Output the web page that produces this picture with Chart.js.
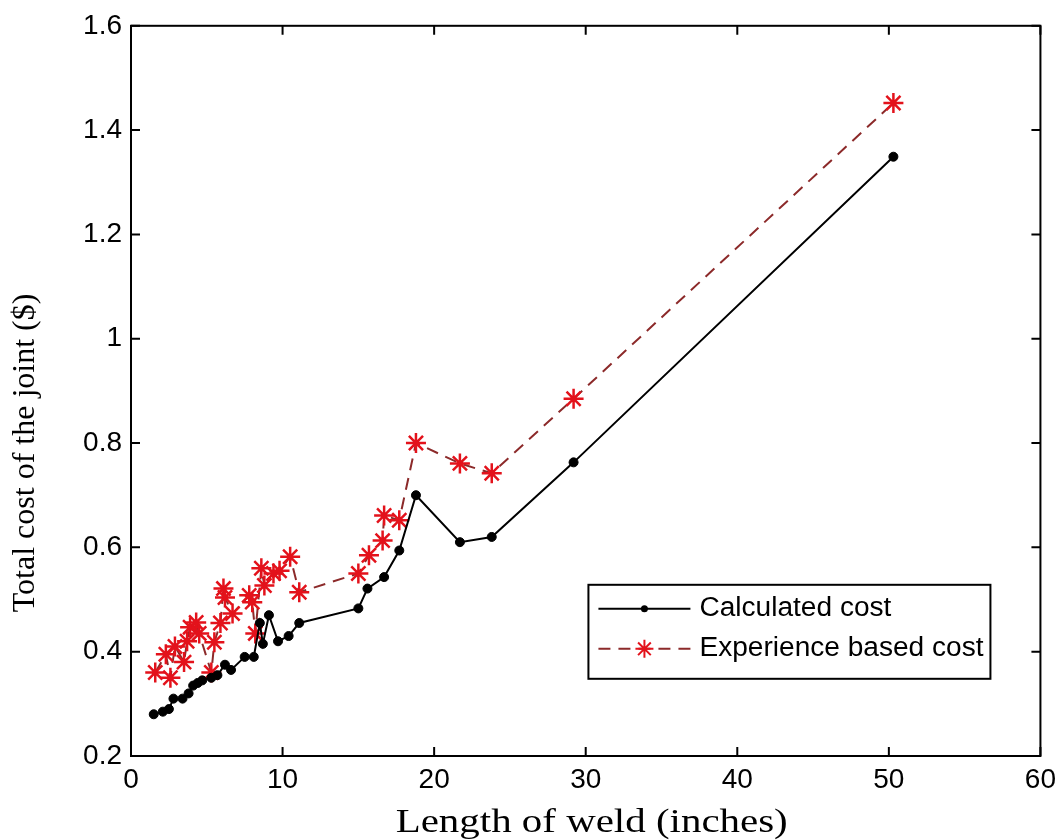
<!DOCTYPE html>
<html>
<head>
<meta charset="utf-8">
<script src="https://cdn.jsdelivr.net/npm/chart.js@4.4.1/dist/chart.umd.min.js"></script>
<style>
  html, body { margin: 0; padding: 0; background: #fff; }
  #wrap { width: 1063px; height: 840px; position: relative; }
</style>
</head>
<body>
<div id="wrap"><canvas id="weldChart"></canvas></div>
<script>
// length of weld (inches) / total cost ($)
const calcX = [1.5, 2.1, 2.5, 2.8, 3.4, 3.8, 4.1, 4.4, 4.7, 5.3, 5.7, 6.2, 6.6, 7.5, 8.1, 8.5, 8.7, 9.1, 9.7, 10.4, 11.1, 15.0, 15.6, 16.7, 17.7, 18.8, 21.7, 23.8, 29.2, 50.3];
const calcY = [0.28, 0.285, 0.29, 0.31, 0.31, 0.32, 0.335, 0.34, 0.345, 0.35, 0.355, 0.375, 0.365, 0.39, 0.39, 0.455, 0.415, 0.47, 0.42, 0.43, 0.455, 0.483, 0.521, 0.543, 0.594, 0.70, 0.61, 0.62, 0.763, 1.349];

const expX = [1.6, 2.3, 2.6, 2.9, 3.5, 3.7, 3.9, 4.3, 4.5, 5.3, 5.5, 5.9, 6.1, 6.2, 6.7, 7.8, 8.0, 8.2, 8.6, 8.8, 9.4, 9.8, 10.5, 11.1, 15.0, 15.7, 16.6, 16.7, 17.7, 18.8, 21.7, 23.8, 29.2, 50.3];
const expY = [0.36, 0.395, 0.35, 0.41, 0.38, 0.42, 0.447, 0.456, 0.435, 0.36, 0.418, 0.455, 0.521, 0.504, 0.473, 0.508, 0.495, 0.435, 0.56, 0.527, 0.55, 0.555, 0.582, 0.514, 0.55, 0.585, 0.613, 0.661, 0.652, 0.80, 0.761, 0.742, 0.885, 1.452];

const seriesLabels = ["Calculated cost", "Experience based cost"];
const xTitle = "Length of weld (inches)";
const yTitle = "Total cost of the joint ($)";
const xTicks = [0, 10, 20, 30, 40, 50, 60];
const yTicks = [0.2, 0.4, 0.6, 0.8, 1.0, 1.2, 1.4, 1.6];

const sansFamily = "'Liberation Sans', Arial, sans-serif";
const serifFamily = "'Liberation Serif', 'Times New Roman', serif";
const tickFont = { family: sansFamily, size: 28 };
const lineRed = "#8c2a2a";
const starRed = "#e3121b";

const toPoints = (xs, ys) => xs.map((x, i) => ({ x, y: ys[i] }));

function drawStar(ctx, x, y, r) {
  ctx.beginPath();
  for (let k = 0; k < 4; k++) {
    const a = (k * Math.PI) / 4;
    ctx.moveTo(x - r * Math.cos(a), y - r * Math.sin(a));
    ctx.lineTo(x + r * Math.cos(a), y + r * Math.sin(a));
  }
  ctx.stroke();
}

// MATLAB-ish box with inward ticks on every side
const boxTicks = {
  id: "boxTicks",
  afterDatasetsDraw(chart) {
    const { ctx, chartArea: a, scales } = chart;
    const len = 9;
    ctx.save();
    ctx.strokeStyle = "#000";
    ctx.lineWidth = 2;
    ctx.strokeRect(a.left, a.top, a.right - a.left, a.bottom - a.top);
    ctx.beginPath();
    xTicks.forEach((v) => {
      const px = scales.x.getPixelForValue(v);
      ctx.moveTo(px, a.bottom); ctx.lineTo(px, a.bottom - len);
      ctx.moveTo(px, a.top); ctx.lineTo(px, a.top + len);
    });
    yTicks.forEach((v) => {
      const py = scales.y.getPixelForValue(v);
      ctx.moveTo(a.left, py); ctx.lineTo(a.left + len, py);
      ctx.moveTo(a.right, py); ctx.lineTo(a.right - len, py);
    });
    ctx.stroke();
    ctx.restore();
  },
};

// axis titles sit off-centre in the source figure, and the x one is drawn wide
const axisTitles = {
  id: "axisTitles",
  afterDraw(chart) {
    const { ctx, chartArea: a } = chart;
    ctx.save();
    ctx.fillStyle = "#000";
    ctx.textAlign = "center";
    ctx.font = `33px ${serifFamily}`;
    ctx.textBaseline = "alphabetic";
    ctx.save();
    ctx.translate((a.left + a.right) / 2 + 6, a.bottom + 76);
    ctx.scale(1.24, 1);
    ctx.fillText(xTitle, 0, 0);
    ctx.restore();

    ctx.font = `32px ${serifFamily}`;
    ctx.textBaseline = "middle";
    ctx.translate(26, (a.top + a.bottom) / 2 + 62);
    ctx.rotate(-Math.PI / 2);
    ctx.fillText(yTitle, 0, 0);
    ctx.restore();
  },
};

const boxLegend = {
  id: "boxLegend",
  afterDraw(chart) {
    const { ctx, chartArea: a } = chart;
    const left = a.right - 452, top = a.top + 559, w = 402, h = 94;
    ctx.save();
    ctx.fillStyle = "#fff";
    ctx.fillRect(left, top, w, h);
    ctx.strokeStyle = "#000";
    ctx.lineWidth = 2;
    ctx.strokeRect(left, top, w, h);

    const rows = [top + 24, top + 64];
    const x0 = left + 10, x1 = left + 102, xm = (x0 + x1) / 2;

    ctx.strokeStyle = "#000";
    ctx.beginPath(); ctx.moveTo(x0, rows[0]); ctx.lineTo(x1, rows[0]); ctx.stroke();
    ctx.fillStyle = "#000";
    ctx.beginPath(); ctx.arc(xm, rows[0], 3.5, 0, Math.PI * 2); ctx.fill();

    ctx.strokeStyle = lineRed;
    ctx.setLineDash([12, 8]);
    ctx.beginPath(); ctx.moveTo(x0, rows[1]); ctx.lineTo(x1, rows[1]); ctx.stroke();
    ctx.setLineDash([]);
    ctx.strokeStyle = starRed;
    drawStar(ctx, xm, rows[1], 9);

    ctx.fillStyle = "#000";
    ctx.font = `27px ${sansFamily}`;
    ctx.textBaseline = "middle";
    ctx.save();
    ctx.translate(left + 111, 0);
    ctx.scale(1.04, 1);
    ctx.fillText(seriesLabels[0], 0, rows[0]);
    ctx.fillText(seriesLabels[1], 0, rows[1]);
    ctx.restore();
    ctx.restore();
  },
};

new Chart(document.getElementById("weldChart"), {
  type: "scatter",
  data: {
    datasets: [
      {
        label: seriesLabels[0],
        data: toPoints(calcX, calcY),
        showLine: true,
        borderColor: "#000",
        borderWidth: 2,
        pointStyle: "circle",
        pointRadius: 4.5,
        pointBackgroundColor: "#000",
        pointBorderColor: "#000",
        pointBorderWidth: 1,
      },
      {
        label: seriesLabels[1],
        data: toPoints(expX, expY),
        showLine: true,
        borderColor: lineRed,
        borderWidth: 2,
        borderDash: [12, 8],
        pointStyle: "star",
        pointRadius: 10,
        pointBorderColor: starRed,
        pointBackgroundColor: starRed,
        pointBorderWidth: 2.5,
      },
    ],
  },
  options: {
    responsive: true,
    maintainAspectRatio: false,
    animation: false,
    events: [],
    layout: { padding: { top: 25, right: 21, left: 0, bottom: 0 } },
    plugins: { legend: { display: false }, tooltip: { enabled: false } },
    scales: {
      x: {
        type: "linear",
        min: 0,
        max: 60,
        afterBuildTicks: (s) => { s.ticks = xTicks.map((value) => ({ value })); },
        afterFit: (s) => { s.height = 84; },
        grid: { display: false, drawTicks: false },
        border: { display: false },
        ticks: { color: "#000", font: tickFont, padding: 7, maxRotation: 0 },
        title: { display: false },
      },
      y: {
        type: "linear",
        min: 0.2,
        max: 1.6,
        afterBuildTicks: (s) => { s.ticks = yTicks.map((value) => ({ value })); },
        afterFit: (s) => { s.width = 131; },
        grid: { display: false, drawTicks: false },
        border: { display: false },
        ticks: { color: "#000", font: tickFont, padding: 9, callback: (v) => String(Number(v.toFixed(1))) },
        title: { display: false },
      },
    },
  },
  plugins: [boxTicks, axisTitles, boxLegend],
});
</script>
</body>
</html>
